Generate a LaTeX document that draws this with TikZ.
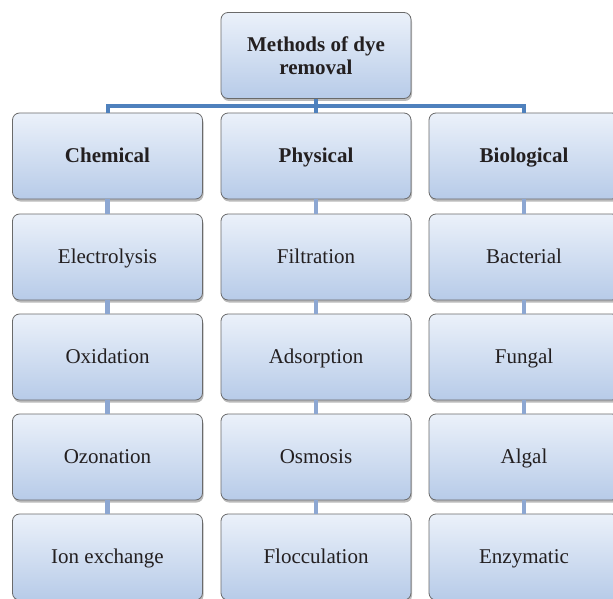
\documentclass[tikz,border=0pt]{standalone}
\usepackage{fontspec}
\setmainfont{Liberation Serif}
\usetikzlibrary{shadows}
\definecolor{boxtop}{HTML}{EBF1FA}
\definecolor{boxbot}{HTML}{B7CBE8}
\definecolor{boxline}{HTML}{6A6A6A}
\definecolor{mainline}{HTML}{4F81BD}
\definecolor{subline}{HTML}{8DA7D2}
\definecolor{txt}{HTML}{231F20}
\tikzset{
  mbox/.style={draw=boxline, line width=0.8pt, rounded corners=7pt,
    top color=boxtop, bottom color=boxbot,
    minimum width=190pt, minimum height=86pt, inner sep=0pt,
    text height=16pt, text depth=3pt,
    text=txt, align=center,
    font=\fontsize{21}{23}\selectfont,
    drop shadow={shadow xshift=1pt, shadow yshift=-2.5pt, opacity=0.45, fill=black!60}},
  hbox/.style={mbox, font=\fontsize{21}{23}\selectfont\bfseries},
  mainconn/.style={draw=mainline, line width=4pt},
  subconn/.style={draw=subline, line width=4.5pt}
}
\begin{document}
\begin{tikzpicture}[x=1pt,y=1pt]
\useasboundingbox (0,0) rectangle (613,-599);
\node[hbox, text height=, text depth=] (top) at (316,-55.5) {Methods of dye\\removal};
\node[hbox] (chem) at (107.5,-156) {Chemical};
\node[hbox] (phys) at (316,-156) {Physical};
\node[hbox] (bio) at (524,-156) {Biological};
\node[mbox] (c1) at (107.5,-257) {Electrolysis};
\node[mbox] (c2) at (107.5,-357) {Oxidation};
\node[mbox] (c3) at (107.5,-457) {Ozonation};
\node[mbox] (c4) at (107.5,-557) {Ion exchange};
\node[mbox] (p1) at (316,-257) {Filtration};
\node[mbox] (p2) at (316,-357) {Adsorption};
\node[mbox] (p3) at (316,-457) {Osmosis};
\node[mbox] (p4) at (316,-557) {Flocculation};
\node[mbox] (b1) at (524,-257) {Bacterial};
\node[mbox] (b2) at (524,-357) {Fungal};
\node[mbox] (b3) at (524,-457) {Algal};
\node[mbox] (b4) at (524,-557) {Enzymatic};
\coordinate (bar) at (316,-106);
\draw[mainconn] (chem.north) |- (bar) -| (bio.north);
\draw[mainconn] (top.south) -- (phys.north);
\foreach \a/\b in {chem/c1,c1/c2,c2/c3,c3/c4,phys/p1,p1/p2,p2/p3,p3/p4,bio/b1,b1/b2,b2/b3,b3/b4}
  \draw[subconn] (\a.south) -- (\b.north);
\end{tikzpicture}
\end{document}
